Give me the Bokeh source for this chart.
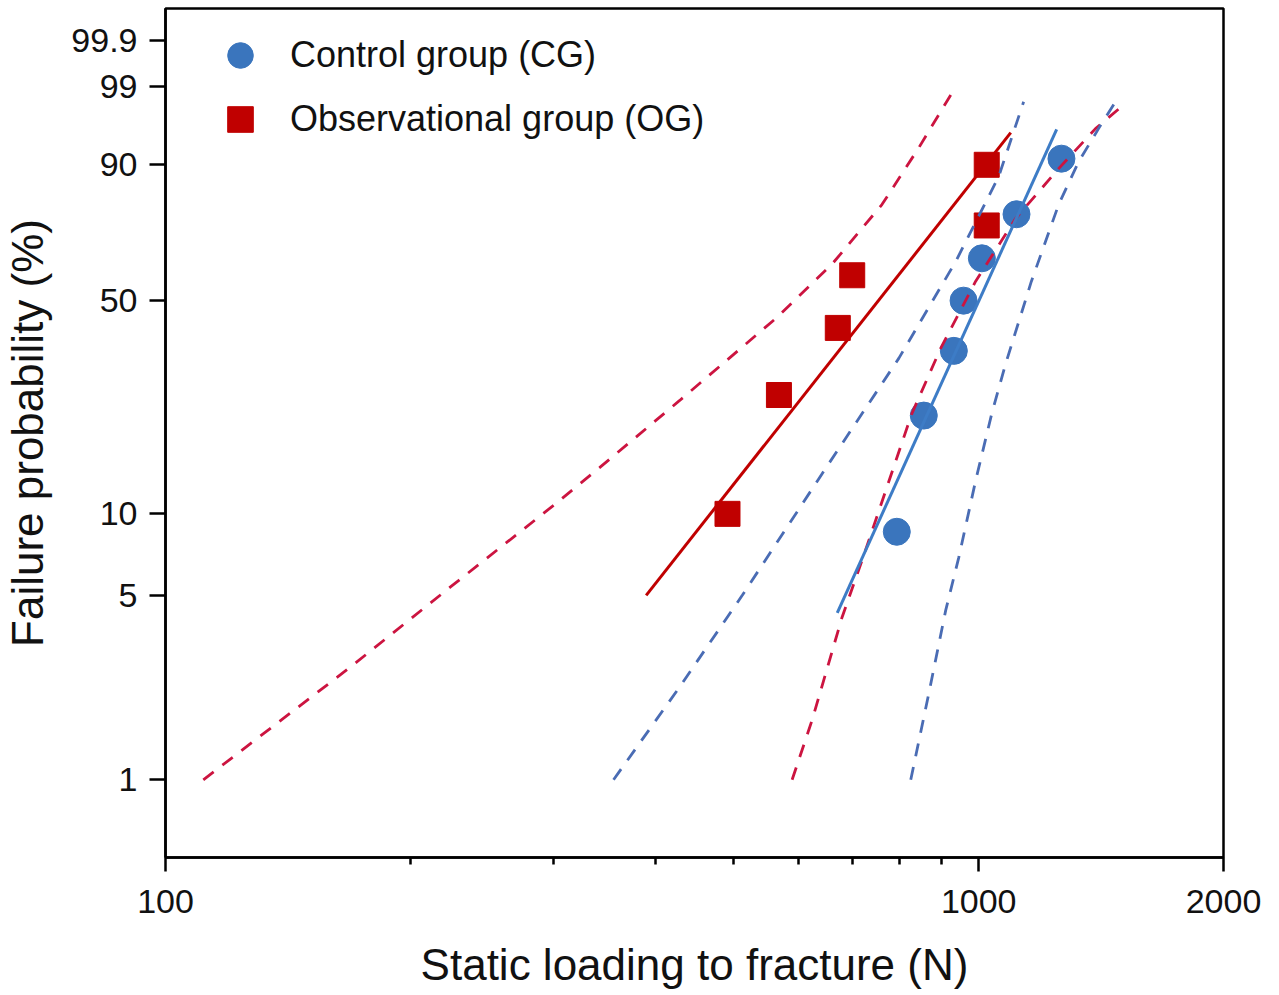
import numpy as np
from bokeh.plotting import figure
from bokeh.models import Range1d, FixedTicker, CustomJSTickFormatter, Legend, LegendItem
from bokeh.embed import file_html
from bokeh.resources import INLINE

FONT = "Liberation Sans"

# ---- data (load in N, failure probability in %) ----
cg_load = [793, 856, 932, 958, 1009, 1113, 1264]
cg_prob = [8.6, 22.2, 35.9, 50.0, 63.5, 77.4, 91.2]
og_load = [491, 568, 671, 699, 1023, 1023]
og_prob = [10, 26, 42, 58, 74, 90]

cg_fit_load = [670, 1247]
cg_fit_prob = [4.3, 95.7]
og_fit_load = [390, 1095]
og_fit_prob = [5.0, 95.3]

og_upper_load = [111.3, 168.7, 223.7, 305.2, 341.8, 428.5, 563.6, 660.2, 760.3, 843.8, 923.9]
og_upper_prob = [1.0, 2.68, 5.35, 11.17, 14.66, 24.9, 44.8, 61.6, 80.2, 93.1, 98.6]
og_lower_load = [589.6, 624.0, 679.2, 718.7, 827.3, 898.2, 991.5, 1110, 1254, 1392, 1515]
og_lower_prob = [1.0, 1.69, 4.14, 6.74, 22.5, 36.6, 56.1, 76.1, 89.2, 95.8, 98.1]
cg_upper_load = [355.6, 428.5, 512.0, 641.9, 797.8, 937.2, 1058, 1135.7]
cg_upper_prob = [1.0, 2.25, 5.0, 13.95, 34.1, 62.5, 87.4, 98.2]
cg_lower_load = [825.0, 868.5, 910.9, 945.2, 991.5, 1037.5, 1079, 1161, 1254, 1327, 1404, 1473]
cg_lower_prob = [1.0, 2.14, 4.40, 6.92, 13.2, 22.5, 32.7, 56.1, 80.2, 90.6, 95.8, 98.2]

y_tick_pct = [1, 5, 10, 50, 90, 99, 99.9]
y_tick_labels = ["1", "5", "10", "50", "90", "99", "99.9"]
x_major = [100, 1000, 2000]
x_minor = [200, 300, 400, 500, 600, 700, 800, 900]


def weibull_y(pct):
    f = np.asarray(pct, dtype=float) / 100.0
    return np.log(-np.log(1.0 - f))


CG_COLOR = "#3a75bd"
OG_COLOR = "#c00000"
CG_DASH = "#4a6cb4"
OG_DASH = "#cc1440"
CG_LINE = "#3d7cc6"
DASH = "13 11"

p = figure(x_axis_type="log", x_range=Range1d(100, 2000), y_range=Range1d(-5.287, 2.215),
           frame_width=1058, frame_height=849,
           min_border_left=165, min_border_right=44, min_border_top=8, min_border_bottom=130,
           output_backend="svg", toolbar_location=None)
p.grid.visible = False
p.outline_line_color = "black"
p.outline_line_width = 2.5
p.background_fill_color = "white"
p.border_fill_color = "white"

# markers
r_cg = p.scatter(cg_load, weibull_y(cg_prob), marker="circle", size=27,
                 fill_color=CG_COLOR, line_color=CG_COLOR)
r_og = p.scatter(og_load, weibull_y(og_prob), marker="square", size=25,
                 fill_color=OG_COLOR, line_color=OG_COLOR)

# confidence bounds
p.line(og_upper_load, weibull_y(og_upper_prob), line_color=OG_DASH, line_width=2.8, line_dash=DASH)
p.line(og_lower_load, weibull_y(og_lower_prob), line_color=OG_DASH, line_width=2.8, line_dash=DASH)
p.line(cg_upper_load, weibull_y(cg_upper_prob), line_color=CG_DASH, line_width=2.8, line_dash=DASH)
p.line(cg_lower_load, weibull_y(cg_lower_prob), line_color=CG_DASH, line_width=2.8, line_dash=DASH)

# fitted lines
p.line(og_fit_load, weibull_y(og_fit_prob), line_color=OG_COLOR, line_width=3)
p.line(cg_fit_load, weibull_y(cg_fit_prob), line_color=CG_LINE, line_width=3)

# axes
yt = [float(v) for v in weibull_y(y_tick_pct)]
p.yaxis.ticker = FixedTicker(ticks=yt)
p.yaxis.formatter = CustomJSTickFormatter(args=dict(t=yt, l=y_tick_labels), code="""
let best = 0, d = 1e9;
for (let i = 0; i < t.length; i++) { const e = Math.abs(t[i] - tick); if (e < d) { d = e; best = i; } }
return l[best];
""")
p.xaxis.ticker = FixedTicker(ticks=x_major, minor_ticks=x_minor)
p.xaxis.formatter = CustomJSTickFormatter(code="return Math.round(tick).toString();")

for ax in (p.xaxis[0], p.yaxis[0]):
    ax.axis_line_width = 2.5
    ax.axis_line_color = "black"
    ax.major_tick_line_width = 2.5
    ax.minor_tick_line_width = 2.5
    ax.major_tick_in = 0
    ax.minor_tick_in = 0
    ax.major_label_text_font = FONT
    ax.major_label_text_font_size = "34px"
    ax.major_label_text_color = "#111111"
    ax.axis_label_text_font = FONT
    ax.axis_label_text_font_size = "44px"
    ax.axis_label_text_font_style = "normal"
    ax.axis_label_text_color = "#111111"

p.yaxis.major_tick_out = 16
p.yaxis.minor_tick_out = 0
p.yaxis.major_label_standoff = 12
p.yaxis.axis_label = "Failure probability (%)"
p.yaxis.axis_label_standoff = 16

p.xaxis.major_tick_out = 14
p.xaxis.minor_tick_out = 7
p.xaxis.major_label_standoff = 18
p.xaxis.axis_label = "Static loading to fracture (N)"
p.xaxis.axis_label_standoff = 24

legend = Legend(items=[LegendItem(label="Control group (CG)", renderers=[r_cg]),
                       LegendItem(label="Observational group (OG)", renderers=[r_og])],
                location=(42, 706), border_line_color=None, background_fill_alpha=0,
                glyph_width=66, glyph_height=64, label_standoff=17, padding=0, margin=0, spacing=0,
                label_text_font=FONT, label_text_font_size="36px", label_text_color="#111111")
p.add_layout(legend)

open("out.html", "w").write(file_html(p, INLINE))
